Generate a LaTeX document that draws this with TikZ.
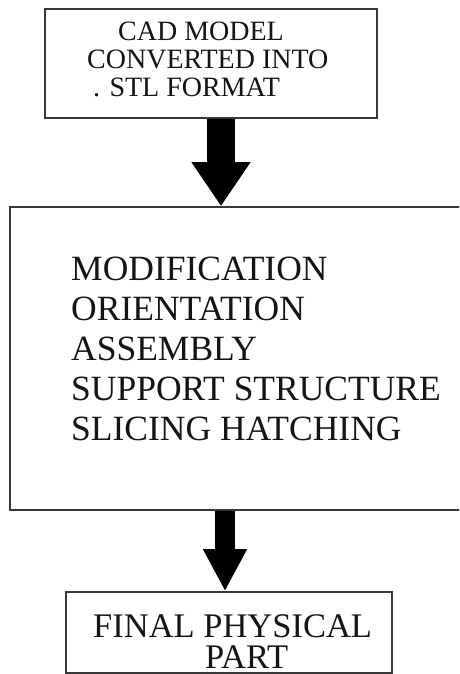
\documentclass[tikz,border=0pt]{standalone}
\usepackage{fontspec}
\setmainfont{Liberation Serif}
\usetikzlibrary{arrows.meta}
\begin{document}
\begin{tikzpicture}[x=1pt, y=-1pt,
  box/.style={draw=black!78, line width=1.6pt, rectangle, inner sep=0pt},
  txt/.style={anchor=base west, inner sep=0pt, text=black!92,
    text height=0.68em, text depth=0pt},
  fatarrow/.style n args={3}{draw=black, line width=#1,
    -{Triangle[width=#2, length=#3]}}]
  \useasboundingbox (0,0) rectangle (459,674);
  \clip (0,0) rectangle (459,674);
  \fill[white] (0,0) rectangle (459,674);

  % process boxes
  \node[box, minimum width=332pt, minimum height=109pt] (cad) at (211,63.5) {};
  \node[box, minimum width=460pt, minimum height=303pt] (prep) at (240,358.5) {};
  \node[box, minimum width=326pt, minimum height=81pt] (part) at (229,632.5) {};

  % box texts
  \begin{scope}[font=\fontsize{28}{28}\selectfont]
    \node[txt] (cad1) at (118,41) {CAD MODEL};
    \node[txt] (cad2) at (87,69) {CONVERTED INTO};
    \node[txt] (cad3) at (93,97) {. STL FORMAT};
  \end{scope}
  \begin{scope}[font=\fontsize{35.5}{40}\selectfont]
    \node[txt] (p1) at (71,280) {MODIFICATION};
    \node[txt] (p2) at (71,320) {ORIENTATION};
    \node[txt] (p3) at (71,360) {ASSEMBLY};
    \node[txt] (p4) at (71,400) {SUPPORT STRUCTURE};
    \node[txt] (p5) at (71,440) {SLICING HATCHING};
  \end{scope}
  % base anchor of a two-line node sits on its last line
  \node[anchor=base west, inner sep=0pt, text=black!92, align=left,
    font=\fontsize{34.5}{31}\selectfont] (fin) at (93,668)
    {FINAL PHYSICAL\\\hspace*{112pt}PART};

  % block arrows between the stages
  \draw[fatarrow={28pt}{56pt}{44pt}]
    ([xshift=10pt]cad.south) -- ([xshift=10pt]cad.south |- prep.north);
  \draw[fatarrow={20pt}{41pt}{42pt}]
    ([xshift=-4pt]part.north |- prep.south) -- ([xshift=-4pt]part.north);
\end{tikzpicture}
\end{document}
